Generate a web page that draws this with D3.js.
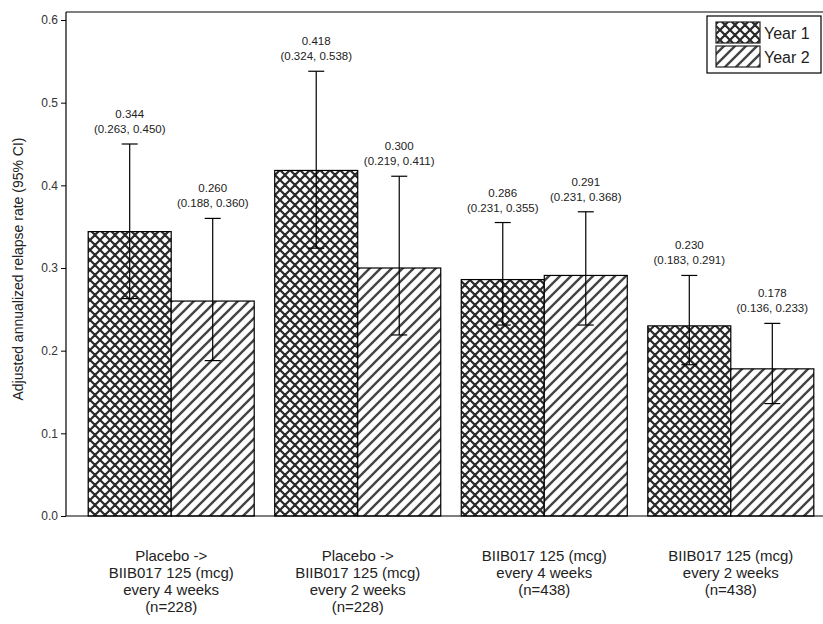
<!DOCTYPE html>
<html><head><meta charset="utf-8">
<script src="https://cdn.jsdelivr.net/npm/d3@7"></script>
<style>body{margin:0;background:#fff}svg{display:block}text{font-family:"Liberation Sans",Arial,sans-serif}</style>
</head><body>
<svg id="c" width="823" height="624"></svg>
<script>
const groups = [
  ["Placebo ->","BIIB017 125 (mcg)","every 4 weeks","(n=228)"],
  ["Placebo ->","BIIB017 125 (mcg)","every 2 weeks","(n=228)"],
  ["BIIB017 125 (mcg)","every 4 weeks","(n=438)"],
  ["BIIB017 125 (mcg)","every 2 weeks","(n=438)"]
];
const seriesNames = ["Year 1","Year 2"];
const year1 = [0.344, 0.418, 0.286, 0.230];
const year1Lo = [0.263, 0.324, 0.231, 0.183];
const year1Hi = [0.450, 0.538, 0.355, 0.291];
const year2 = [0.260, 0.300, 0.291, 0.178];
const year2Lo = [0.188, 0.219, 0.231, 0.136];
const year2Hi = [0.360, 0.411, 0.368, 0.233];
const yTicks = [0.0,0.1,0.2,0.3,0.4,0.5,0.6];

(function(){
const svg = d3.select("#c");
const mLeft = 66, mRight = 823, mTop = 12, mBottom = 516;
const y = d3.scaleLinear().domain([0,0.6]).range([mBottom, 20]);
const x0 = d3.scaleBand().domain(d3.range(groups.length)).range([77, 825]).paddingInner(0.11).paddingOuter(0.06);
const x1 = d3.scaleBand().domain([0,1]).range([0, x0.bandwidth()]);

const defs = svg.append("defs");
const p1 = defs.append("pattern").attr("id","cross").attr("patternUnits","userSpaceOnUse").attr("width",10).attr("height",10);
p1.append("rect").attr("width",10).attr("height",10).attr("fill","#fff");
p1.append("path").attr("d","M0,0L10,10M-5,5L5,15M5,-5L15,5M0,10L10,0M-5,5L5,-5M5,15L15,5").attr("stroke","#2a2a2a").attr("stroke-width",2.2);
const p2 = defs.append("pattern").attr("id","diag").attr("patternUnits","userSpaceOnUse").attr("width",11).attr("height",11);
p2.append("rect").attr("width",11).attr("height",11).attr("fill","#fff");
p2.append("path").attr("d","M0,11L11,0M-5.5,5.5L5.5,-5.5M5.5,16.5L16.5,5.5").attr("stroke","#444").attr("stroke-width",2.4);
const fills = ["url(#cross)","url(#diag)"];

const series = [
  {v:year1, lo:year1Lo, hi:year1Hi},
  {v:year2, lo:year2Lo, hi:year2Hi}
];

svg.append("line").attr("x1",mLeft).attr("x2",mRight).attr("y1",mTop).attr("y2",mTop).attr("stroke","#000").attr("stroke-width",1.2);

series.forEach((s,si)=>{
  const g = svg.append("g");
  s.v.forEach((v,i)=>{
    const bx = x0(i)+x1(si), bw = x1.bandwidth();
    g.append("rect").attr("x",bx).attr("y",y(v)).attr("width",bw).attr("height",y(0)-y(v))
      .attr("fill",fills[si]).attr("stroke","#000").attr("stroke-width",1.2);
    const cx = bx + bw/2;
    g.append("line").attr("x1",cx).attr("x2",cx).attr("y1",y(s.lo[i])).attr("y2",y(s.hi[i])).attr("stroke","#000").attr("stroke-width",1.2);
    [s.lo[i], s.hi[i]].forEach(e=>{
      g.append("line").attr("x1",cx-8).attr("x2",cx+8).attr("y1",y(e)).attr("y2",y(e)).attr("stroke","#000").attr("stroke-width",1.2);
    });
    g.append("text").attr("x",cx).attr("y",y(s.hi[i])-26).attr("text-anchor","middle").attr("font-size",11.5).attr("fill","#222").text(v.toFixed(3));
    g.append("text").attr("x",cx).attr("y",y(s.hi[i])-11).attr("text-anchor","middle").attr("font-size",11.5).attr("fill","#222")
      .text("(" + s.lo[i].toFixed(3) + ", " + s.hi[i].toFixed(3) + ")");
  });
});

const ya = svg.append("g").attr("transform",`translate(${mLeft},0)`)
  .call(d3.axisLeft(y).tickValues(yTicks).tickFormat(d3.format(".1f")).tickSizeOuter(0).tickSize(5));
ya.select(".domain").attr("d",`M0,${mTop}V${mBottom}`).attr("stroke-width",1.2);
ya.selectAll("text").attr("font-size",12).attr("fill","#333").attr("font-family","Liberation Sans, Arial, sans-serif");
svg.append("line").attr("x1",mLeft).attr("x2",mRight).attr("y1",mBottom).attr("y2",mBottom).attr("stroke","#000").attr("stroke-width",1.2);

groups.forEach((lines,i)=>{
  const cx = x0(i)+x0.bandwidth()/2;
  const t = svg.append("text").attr("text-anchor","middle").attr("font-size",15).attr("fill","#222");
  lines.forEach((l,k)=>{
    t.append("tspan").attr("x",cx).attr("y",561+k*17).text(l);
  });
});

svg.append("text").attr("transform",`translate(23,${(mTop+mBottom)/2+5}) rotate(-90)`).attr("text-anchor","middle")
  .attr("font-size",14).attr("fill","#222").text("Adjusted annualized relapse rate (95% CI)");

const lg = svg.append("g");
lg.append("rect").attr("x",707).attr("y",16).attr("width",114).attr("height",57).attr("fill","#fff").attr("stroke","#000").attr("stroke-width",1.2);
seriesNames.forEach((n,i)=>{
  lg.append("rect").attr("x",716).attr("y",22+i*24).attr("width",44).attr("height",21).attr("fill",fills[i]).attr("stroke","#222").attr("stroke-width",1.2);
  lg.append("text").attr("x",764).attr("y",39+i*24).attr("font-size",16).attr("fill","#222").text(n);
});
})();
</script>
</body></html>
